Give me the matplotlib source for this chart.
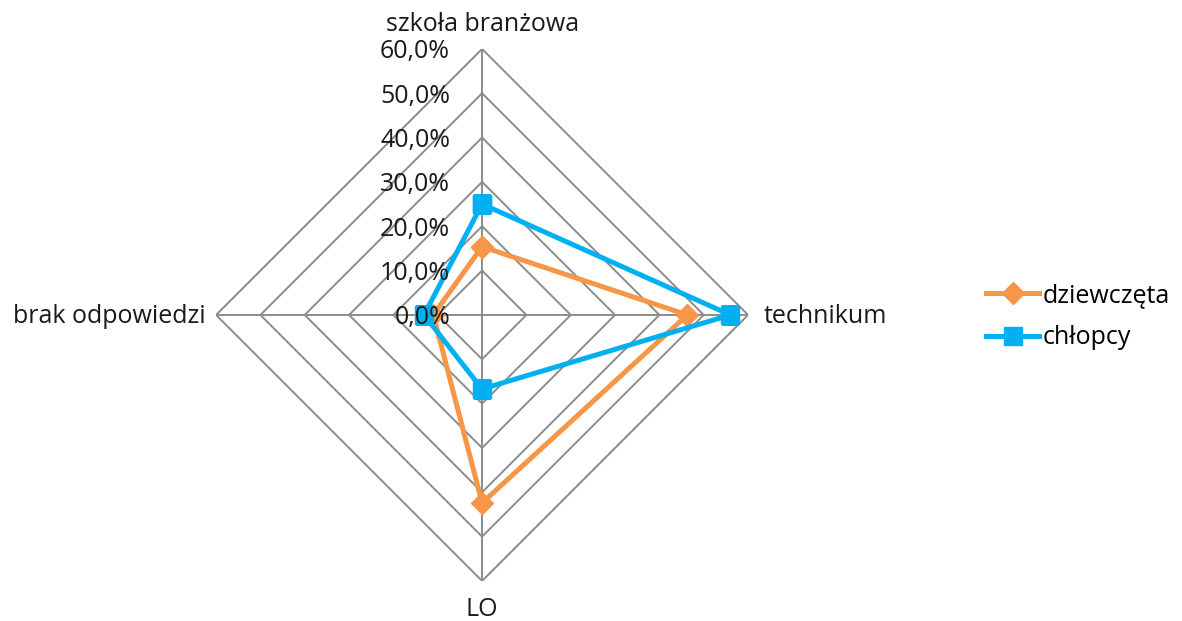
import numpy as np
import matplotlib
matplotlib.use("Agg")
import matplotlib.pyplot as plt
import matplotlib.transforms as mtransforms

categories = ["szkoła branżowa", "technikum", "LO", "brak odpowiedzi"]
dziewczeta = [15.4, 46.3, 42.4, 11.0]
chlopcy = [25.0, 56.0, 16.7, 13.1]
ticks = [0, 10, 20, 30, 40, 50, 60]
tick_labels = ["0,0%", "10,0%", "20,0%", "30,0%", "40,0%", "50,0%", "60,0%"]
series_names = ["dziewczęta", "chłopcy"]

plt.rcParams['font.family'] = ['Open Sans', 'DejaVu Sans']
FS = 18

fig = plt.figure(figsize=(11.82, 6.21), dpi=100)
ax = fig.add_axes([0.1828, 0.0645, 0.4501, 0.8567], projection='polar')
ax.set_theta_offset(np.pi / 2)
ax.set_theta_direction(-1)
ax.set_ylim(0, 60)
ax.grid(False)
ax.spines['polar'].set_visible(False)
ax.set_xticks([])
ax.set_yticks([])

n = len(categories)
angles = np.arange(n) * 2 * np.pi / n
closed = np.concatenate([angles, angles[:1]])

grid_c = '#8c8c8c'
for t in ticks[1:]:
    ax.plot(closed, [t] * (n + 1), color=grid_c, lw=1.4, zorder=1)
for a in angles:
    ax.plot([a, a], [0, 60], color=grid_c, lw=1.4, zorder=1)

orange = '#F79646'
blue = '#00B0F0'
l1, = ax.plot(closed, dziewczeta + dziewczeta[:1], color=orange, lw=3.6,
              marker='D', markersize=11, zorder=3, label=series_names[0])
l2, = ax.plot(closed, chlopcy + chlopcy[:1], color=blue, lw=3.6,
              marker='s', markersize=13, zorder=4, label=series_names[1])

off = mtransforms.offset_copy(ax.transData, fig=fig, x=-32, y=-3, units='dots')
for t, lab in zip(ticks, tick_labels):
    ax.text(0, t, lab, transform=off, ha='right', va='center', fontsize=FS,
            color='#1a1a1a', zorder=5)

label_specs = [
    (0, 0, 12, 'center', 'bottom'),
    (1, 16, -2, 'left', 'center'),
    (2, 0, -16, 'center', 'top'),
    (3, -10, -2, 'right', 'center'),
]
for i, dx, dy, ha, va in label_specs:
    tr = mtransforms.offset_copy(ax.transData, fig=fig, x=dx, y=dy, units='dots')
    ax.text(angles[i], 60, categories[i], transform=tr, ha=ha, va=va,
            fontsize=FS, color='#1a1a1a')

leg = fig.legend(handles=[l1, l2], loc='center left',
                 bbox_to_anchor=(0.8155, 0.49), frameon=False, fontsize=FS,
                 handlelength=2.1, handletextpad=0.15, labelspacing=0.7)

fig.savefig('out.png', dpi=100)
